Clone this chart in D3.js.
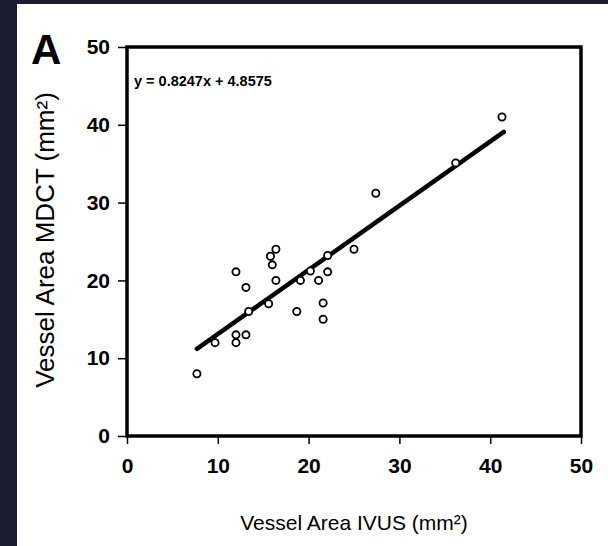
<!DOCTYPE html>
<html>
<head>
    <meta charset="utf-8">
    <script type="text/javascript" src="https://cdn.jsdelivr.net/npm/d3@7/dist/d3.min.js"></script>
</head>
<style>
body {
  margin: 0;
  background: #fff;
}
text {
  fill: #000;
  font-family: "Liberation Sans", Arial, sans-serif;
}
.tick-label {
  font-size: 21px;
  font-weight: bold;
}
.title {
  font-size: 21px;
}
</style>
<body>
<script>
var ivus = [7.7, 9.7, 12.0, 12.0, 13.1, 13.4, 12.0, 13.1, 15.6, 15.8, 16.4, 16.0, 16.4,
            18.7, 19.1, 20.2, 21.1, 22.1, 22.1, 21.6, 21.6, 25.0, 27.4, 36.2, 41.3];
var mdct = [8.0, 12.0, 13.0, 12.0, 13.0, 16.0, 21.1, 19.1, 17.0, 23.1, 24.0, 22.0, 20.0,
            16.0, 20.0, 21.2, 20.0, 23.2, 21.1, 17.1, 15.0, 24.0, 31.2, 35.1, 41.0];
var xTicks = [0, 10, 20, 30, 40, 50];
var yTicks = [0, 10, 20, 30, 40, 50];
var slope = 0.8247,
    intercept = 4.8575;
var fitLabel = "y = 0.8247x + 4.8575";

var width = 608,
    height = 546;

var svg = d3.select("body").append("svg")
    .attr("width", width)
    .attr("height", height);

// dark page edge from the scan
svg.append("rect").attr("x", 0).attr("y", 0).attr("width", 17).attr("height", height).attr("fill", "#1d1b2f");
svg.append("rect").attr("x", 0).attr("y", 0).attr("width", width).attr("height", 4).attr("fill", "#1d1b2f");

var x = d3.scaleLinear().domain([0, 50]).range([127, 581]);
var y = d3.scaleLinear().domain([0, 50]).range([436, 47]);

// ticks
var xAxis = svg.append("g")
    .attr("transform", "translate(0," + y(0) + ")")
    .call(d3.axisBottom(x).tickValues(xTicks).tickSize(8).tickPadding(14).tickFormat(d3.format("d")));
var yAxis = svg.append("g")
    .attr("transform", "translate(" + x(0) + ",0)")
    .call(d3.axisLeft(y).tickValues(yTicks).tickSize(9).tickPadding(8).tickFormat(d3.format("d")));
[xAxis, yAxis].forEach(function(a) {
  a.select(".domain").remove();
  a.selectAll(".tick line").attr("stroke", "#000").attr("stroke-width", 1.5);
  a.selectAll(".tick text").attr("class", "tick-label").attr("fill", "#000");
});

// frame
svg.append("rect")
    .attr("x", x(0))
    .attr("y", y(50))
    .attr("width", x(50) - x(0))
    .attr("height", y(0) - y(50))
    .attr("fill", "none")
    .attr("stroke", "#000")
    .attr("stroke-width", 3.5);

// fit line over the data range
var ext = d3.extent(ivus);
svg.append("line")
    .attr("x1", x(ext[0]))
    .attr("y1", y(slope * ext[0] + intercept))
    .attr("x2", x(ext[1] + 0.2))
    .attr("y2", y(slope * (ext[1] + 0.2) + intercept))
    .attr("stroke", "#000")
    .attr("stroke-width", 4.5)
    .attr("stroke-linecap", "round");

// points
svg.append("g")
    .selectAll("circle")
    .data(ivus)
  .enter()
    .append("circle")
    .attr("cx", function(d) { return x(d); })
    .attr("cy", function(d, i) { return y(mdct[i]); })
    .attr("r", 3.6)
    .attr("fill", "#fff")
    .attr("stroke", "#000")
    .attr("stroke-width", 1.8);

svg.append("text")
    .attr("x", 134)
    .attr("y", 86)
    .style("font-size", "14.5px")
    .style("font-weight", "bold")
    .text(fitLabel);

svg.append("text")
    .attr("x", 31)
    .attr("y", 64)
    .style("font-size", "42px")
    .style("font-weight", "bold")
    .text("A");

svg.append("text")
    .attr("class", "title")
    .attr("text-anchor", "middle")
    .attr("x", 354)
    .attr("y", 530)
    .text("Vessel Area IVUS (mm²)");

svg.append("text")
    .attr("class", "title")
    .attr("text-anchor", "middle")
    .style("font-size", "26px")
    .attr("transform", "translate(54,240) rotate(-90)")
    .text("Vessel Area MDCT (mm²)");
</script>
</body>
</html>
